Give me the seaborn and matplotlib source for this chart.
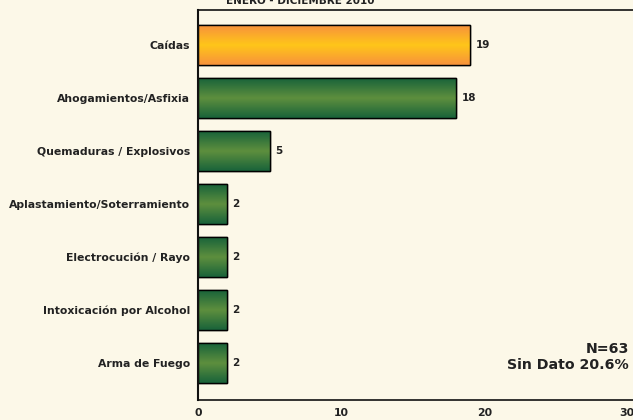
import numpy as np
import pandas as pd
import seaborn as sns
import matplotlib
matplotlib.use("Agg")
import matplotlib.pyplot as plt
from matplotlib.colors import LinearSegmentedColormap

categorias = ["Caídas", "Ahogamientos/Asfixia", "Quemaduras / Explosivos",
              "Aplastamiento/Soterramiento", "Electrocución / Rayo",
              "Intoxicación por Alcohol", "Arma de Fuego"]
casos = [19, 18, 5, 2, 2, 2, 2]
titulo = "ENERO - DICIEMBRE 2010"
nota = "N=63\nSin Dato 20.6%"

fondo = "#FCF8E8"
verde = LinearSegmentedColormap.from_list("verde", ["#19633A", "#5E8F3E", "#19633A"])
naranja = LinearSegmentedColormap.from_list("naranja", ["#F7923C", "#FFC619", "#F7923C"])

sns.set_style("white")
plt.rcParams["font.family"] = ["DejaVu Sans"]

df = pd.DataFrame({"categoria": categorias, "casos": casos})

fig = plt.figure(figsize=(6.33, 4.2), dpi=100, facecolor=fondo)
ax = fig.add_axes([0.313, 0.048, 0.687, 0.928])
ax.set_facecolor(fondo)

sns.barplot(data=df, x="casos", y="categoria", orient="h", width=0.75,
            color="#19633A", edgecolor="black", linewidth=1, ax=ax)

# degradado vertical en cada barra
grad = np.linspace(0, 1, 64).reshape(-1, 1)
for i, p in enumerate(ax.patches):
    x0, y0 = p.get_x(), p.get_y()
    w, h = p.get_width(), p.get_height()
    cmap = naranja if i == 0 else verde
    im = ax.imshow(grad, cmap=cmap, aspect="auto", extent=[x0, x0 + w, y0 + h, y0],
                   zorder=p.get_zorder() + 0.1, interpolation="bicubic")
    im.set_clip_path(p)
    ax.add_patch(plt.Rectangle((x0, y0), w, h, fill=False, edgecolor="black",
                               linewidth=1, zorder=p.get_zorder() + 0.2))
    ax.text(x0 + w + 0.4, y0 + h / 2, str(casos[i]), va="center", ha="left",
            fontsize=7.5, fontweight="bold", color="#222222")

ax.set_xlim(0, 30.4)
ax.set_ylim(6.7, -0.66)
ax.set_xticks([0, 10, 20, 30])
ax.set_xlabel("")
ax.set_ylabel("")
ax.tick_params(axis="both", length=0, labelsize=7.8, colors="#222222")
ax.tick_params(axis="x", pad=6)
ax.tick_params(axis="y", pad=6)
for lab in ax.get_xticklabels() + ax.get_yticklabels():
    lab.set_fontweight("bold")

for s in ["left", "bottom", "top"]:
    ax.spines[s].set_visible(True)
    ax.spines[s].set_color("#111111")
ax.spines["left"].set_linewidth(1.5)
ax.spines["bottom"].set_linewidth(1.2)
ax.spines["top"].set_linewidth(1.2)
ax.spines["right"].set_visible(False)

ax.text(0.99, 0.11, nota, transform=ax.transAxes, ha="right", va="center",
        fontsize=10.2, fontweight="bold", color="#222222", linespacing=1.2)

fig.text(0.475, 0.997, titulo, ha="center", va="center", fontsize=7.5,
         fontweight="bold", color="#222222")

fig.savefig("out.png", dpi=100, facecolor=fondo)
